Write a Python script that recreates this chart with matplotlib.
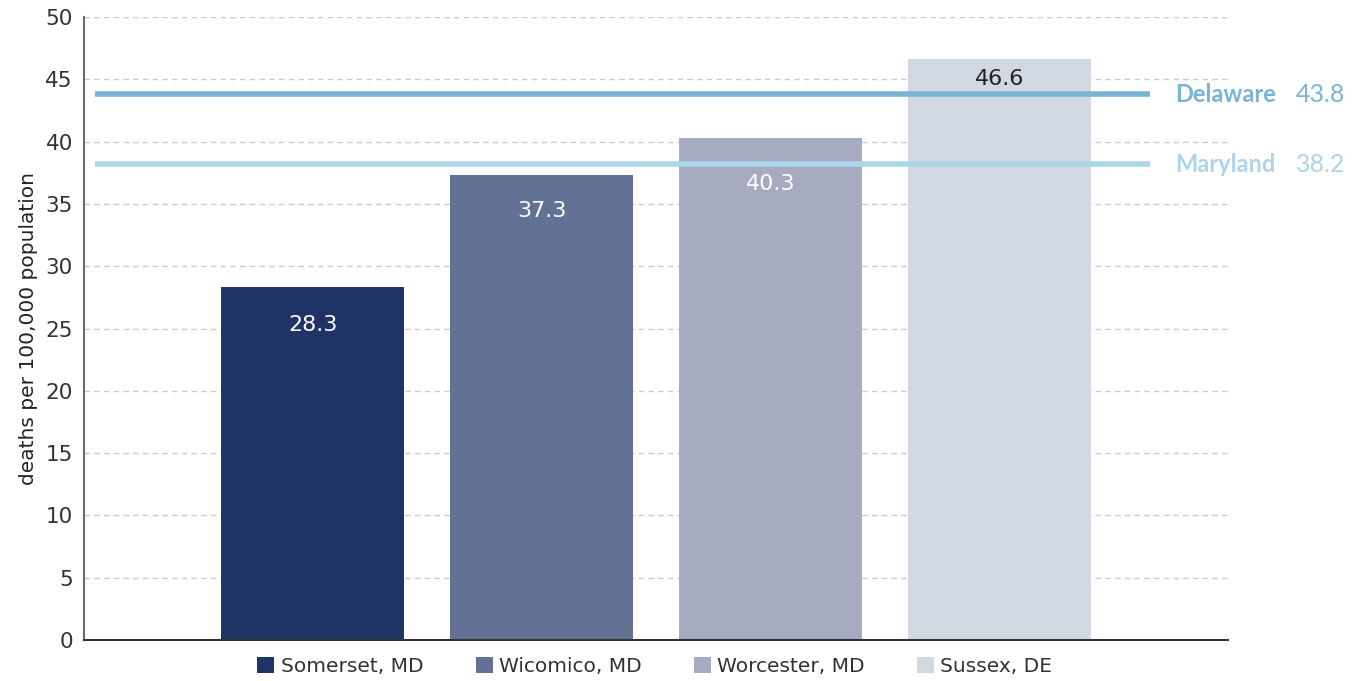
import matplotlib.pyplot as plt
from matplotlib.patches import Patch
from matplotlib.transforms import blended_transform_factory

plt.rcParams['font.family'] = ['DejaVu Sans']

# --- data ---
counties = ["Somerset, MD", "Wicomico, MD", "Worcester, MD", "Sussex, DE"]
rates = [28.3, 37.3, 40.3, 46.6]
state_names = ["Delaware", "Maryland"]
state_rates = [43.8, 38.2]

bar_colors = ["#1f3366", "#637194", "#a6abc2", "#d1d8e2"]
label_colors = ["white", "white", "white", "#222222"]
label_drop = [27, 26, 33, 14]  # points below bar top
state_colors = ["#7ab3d4", "#acd5e8"]

fig = plt.figure(figsize=(13.64, 6.81), dpi=100)
ax = fig.add_axes([0.0616, 0.0602, 0.8387, 0.9148])

x = [1, 2, 3, 4]
ax.bar(x, rates, width=0.8, color=bar_colors, zorder=2)

for xi, v, c, d in zip(x, rates, label_colors, label_drop):
    ax.annotate(f"{v:.1f}", (xi, v), xytext=(0, -d), textcoords="offset points",
                ha="center", va="center", fontsize=16, color=c, zorder=4)

# state reference lines
trans = blended_transform_factory(ax.transAxes, ax.transData)
for name, v, c in zip(state_names, state_rates, state_colors):
    ax.plot([0.05, 4.66], [v, v], color=c, linewidth=4, zorder=3,
            solid_capstyle="butt")
    ax.text(0.9537, v, name, transform=trans, color=c, fontsize=17,
            fontfamily="Lato", fontweight="bold", va="center", ha="left",
            clip_on=False)
    ax.text(1.0594, v, f"{v:.1f}", transform=trans, color=c, fontsize=18,
            fontfamily="Lato", va="center", ha="left", clip_on=False)

ax.set_xlim(0, 5)
ax.set_ylim(0, 50)
ax.set_yticks(range(0, 51, 5))
ax.set_xticks([])
ax.tick_params(axis="y", length=0, labelsize=15.5, labelcolor="#333333", pad=8)
ax.set_ylabel("deaths per 100,000 population", fontsize=14.5, color="#222222",
              labelpad=5)

ax.grid(axis="y", linestyle=(0, (4, 3)), color="#cccccc", linewidth=1, zorder=0)
ax.set_axisbelow(True)
for s in ["top", "right"]:
    ax.spines[s].set_visible(False)
ax.spines["left"].set_color("#6b6b6b")
ax.spines["left"].set_linewidth(1.5)
ax.spines["bottom"].set_color("#333333")
ax.spines["bottom"].set_linewidth(1.5)

handles = [Patch(facecolor=c, edgecolor="none") for c in bar_colors]
fig.legend(handles, counties, loc="center", bbox_to_anchor=(0.48, 0.022),
           ncol=4, frameon=False, fontsize=14.5, handlelength=0.85,
           handleheight=0.85, handletextpad=0.3, columnspacing=2.6,
           labelcolor="#333333")

fig.savefig("out.png", dpi=100)
